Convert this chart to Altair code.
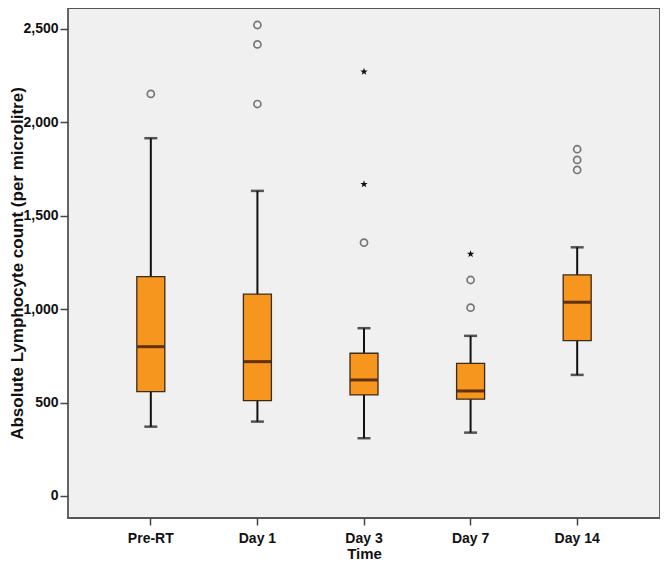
import altair as alt
import pandas as pd

times = ["Pre-RT", "Day 1", "Day 3", "Day 7", "Day 14"]
lower_whisker = [371, 398, 309, 339, 648]
q1 = [558, 510, 541, 518, 831]
median = [799, 719, 621, 562, 1037]
q3 = [1174, 1080, 764, 710, 1183]
upper_whisker = [1915, 1633, 898, 857, 1331]

outlier_time = ["Pre-RT", "Day 1", "Day 1", "Day 1", "Day 3", "Day 7", "Day 7",
                "Day 14", "Day 14", "Day 14"]
outlier_value = [2152, 2521, 2417, 2098, 1356, 1156, 1008, 1856, 1799, 1745]

extreme_time = ["Day 3", "Day 3", "Day 7"]
extreme_value = [2271, 1669, 1295]

y_ticks = [0, 500, 1000, 1500, 2000, 2500]

stats = pd.DataFrame({
    "Time": times, "lo": lower_whisker, "q1": q1, "med": median,
    "q3": q3, "hi": upper_whisker,
})
outl = pd.DataFrame({"Time": outlier_time, "v": outlier_value})
extr = pd.DataFrame({"Time": extreme_time, "v": extreme_value})

FONT = "Liberation Sans"
x_scale = alt.Scale(domain=times, paddingInner=0, paddingOuter=0.277)
y_scale = alt.Scale(domain=[-118, 2612], nice=False, zero=False)

x_enc = alt.X("Time:N", scale=x_scale, sort=times,
              axis=alt.Axis(title="Time", labelAngle=0, tickSize=7, tickWidth=1.5,
                            tickColor="#444", domain=False, labelPadding=6,
                            titlePadding=1))
y_axis = alt.Axis(title="Absolute Lymphocyte count (per microlitre)",
                  values=y_ticks, format=",d", tickSize=8, tickWidth=1.5,
                  tickColor="#444", domain=False, grid=False, labelPadding=2,
                  titleX=-46, titleBaseline="alphabetic", titleFontSize=17)

base = alt.Chart(stats)

whisker = base.mark_rule(color="#111", strokeWidth=2).encode(
    x=x_enc,
    y=alt.Y("lo:Q", scale=y_scale, axis=y_axis),
    y2="hi:Q",
)
cap_lo = base.mark_tick(color="#111", size=13, thickness=2.5).encode(
    x=alt.X("Time:N", scale=x_scale, sort=times),
    y=alt.Y("lo:Q", scale=y_scale),
)
cap_hi = base.mark_tick(color="#111", size=13, thickness=2.5).encode(
    x=alt.X("Time:N", scale=x_scale, sort=times),
    y=alt.Y("hi:Q", scale=y_scale),
)
box = base.mark_bar(size=28, fill="#F7961F", stroke="#3a2a18", strokeWidth=1.3).encode(
    x=alt.X("Time:N", scale=x_scale, sort=times),
    y=alt.Y("q1:Q", scale=y_scale),
    y2="q3:Q",
)
med = base.mark_tick(color="#220400", size=27, thickness=3).encode(
    x=alt.X("Time:N", scale=x_scale, sort=times),
    y=alt.Y("med:Q", scale=y_scale),
)
circles = alt.Chart(outl).mark_point(shape="circle", filled=False, color="#444",
                                     size=50, strokeWidth=1.7).encode(
    x=alt.X("Time:N", scale=x_scale, sort=times),
    y=alt.Y("v:Q", scale=y_scale),
)
STAR = ("M0,-1L0.24,-0.33L0.95,-0.31L0.39,0.13L0.59,0.81L0,0.41L-0.59,0.81"
        "L-0.39,0.13L-0.95,-0.31L-0.24,-0.33Z")
stars = alt.Chart(extr).mark_point(shape=STAR, filled=True, color="#111",
                                   size=60, opacity=1).encode(
    x=alt.X("Time:N", scale=x_scale, sort=times),
    y=alt.Y("v:Q", scale=y_scale),
)

chart = alt.layer(whisker, cap_lo, cap_hi, box, med, circles, stars).properties(
    width=592, height=510,
    autosize=alt.AutoSizeParams(type="none"),
    padding={"left": 60, "top": 0, "right": 0, "bottom": 48},
    background="white",
).configure_view(
    fill="#f0f0f0", stroke="#555", strokeWidth=1.8,
).configure_axis(
    labelFont=FONT, labelFontSize=14, labelFontWeight="bold", labelColor="#111",
    titleFont=FONT, titleFontSize=15, titleFontWeight="bold", titleColor="#111",
)

chart.save("out.html", embed_options={"renderer": "svg", "actions": False})
